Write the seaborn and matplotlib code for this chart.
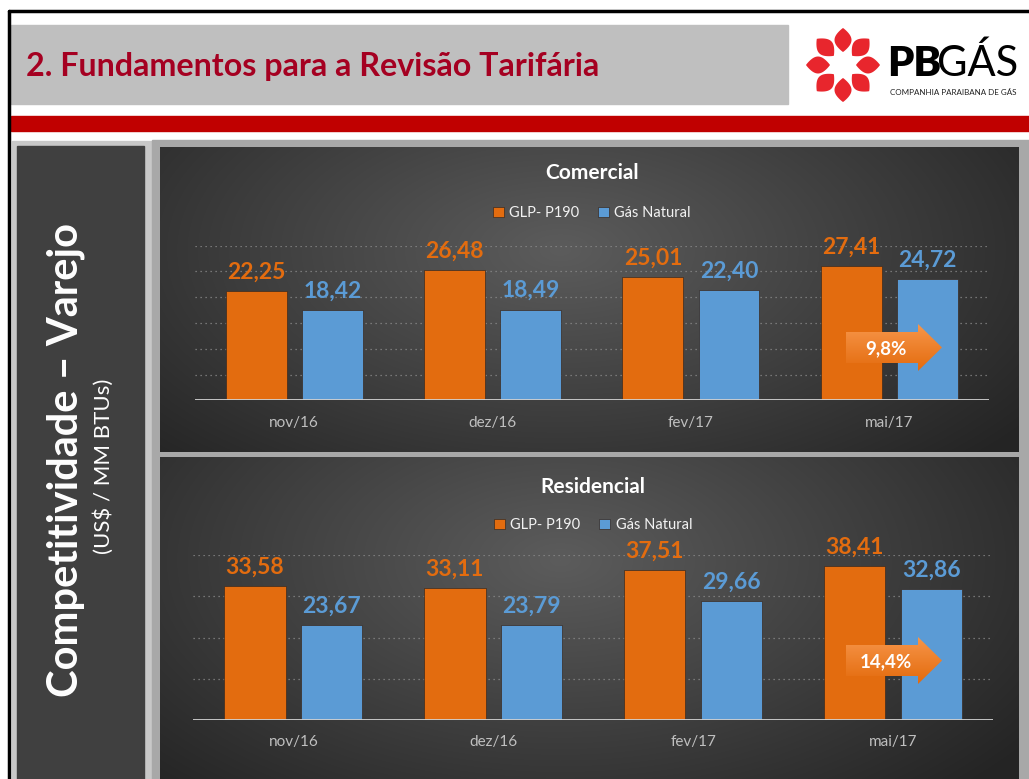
import matplotlib
matplotlib.use('Agg')
import matplotlib.pyplot as plt
from matplotlib.patches import Rectangle, Polygon
import numpy as np
import pandas as pd
import seaborn as sns

meses = ['nov/16', 'dez/16', 'fev/17', 'mai/17']
series = ['GLP- P190', 'Gás Natural']
comercial_glp = [22.25, 26.48, 25.01, 27.41]
comercial_gn = [18.42, 18.49, 22.40, 24.72]
residencial_glp = [33.58, 33.11, 37.51, 38.41]
residencial_gn = [23.67, 23.79, 29.66, 32.86]

LARANJA = '#E36C0F'
AZUL = '#5B9BD5'
W, H = 1029, 779

sns.set_style('white')
plt.rcParams['font.family'] = ['Lato', 'DejaVu Sans']

fig = plt.figure(figsize=(W / 100, H / 100), dpi=100)
bg = fig.add_axes([0, 0, 1, 1])
bg.set_xlim(0, W)
bg.set_ylim(H, 0)
bg.axis('off')


def px_axes(x0, y0, x1, y1):
    """axes posicionado em pixels da figura"""
    return fig.add_axes([x0 / W, 1 - y1 / H, (x1 - x0) / W, (y1 - y0) / H])


def radial(x0, y0, x1, y1, cx, cy, rx, ry, c_in=0x5c, c_out=0x24):
    X, Y = np.meshgrid(np.arange(x0, x1), np.arange(y0, y1))
    d = np.clip(np.hypot((X - cx) / rx, (Y - cy) / ry), 0, 1)
    v = (c_in + (c_out - c_in) * d) / 255
    img = np.dstack([v, v, v])
    bg.imshow(img, extent=(x0, x1, y1, y0), aspect='auto', zorder=2,
              interpolation='bilinear')


# moldura e cabecalho
bg.plot([9, 9], [11, H], color='black', lw=2.5, zorder=5)
bg.plot([9, W], [11, 11], color='black', lw=2.5, zorder=5)
bg.add_patch(Rectangle((11, 25), 777, 79, color='#bfbfbf', zorder=1))
bg.add_patch(Rectangle((11, 116), W - 11, 15, color='#c00000', zorder=1))
bg.text(26, 66, '2. Fundamentos para a Revisão Tarifária', color='#a50021',
        fontsize=23.2, fontweight='bold', va='center', ha='left', zorder=3)

# logo
def petala(cx, cy, ang, r0, r1, w):
    s = np.linspace(0, 1, 40)
    r = r0 + (r1 - r0) * s
    half = w * np.sin(np.pi * s) ** 0.9
    a = np.deg2rad(ang)
    ux, uy = np.cos(a), -np.sin(a)
    vx, vy = -uy, ux
    xs = np.concatenate([cx + r * ux + half * vx, (cx + r * ux - half * vx)[::-1]])
    ys = np.concatenate([cy + r * uy + half * vy, (cy + r * uy - half * vy)[::-1]])
    bg.add_patch(Polygon(np.column_stack([xs, ys]), color='#e8262d', zorder=3, lw=0))


for ang in range(0, 360, 45):
    petala(843, 65, ang, 13, 37, 8.5)
bg.text(887, 76, 'PB', fontsize=30, fontweight='heavy', color='black', va='baseline', zorder=3)
bg.text(937, 76, 'GÁS', fontsize=30, fontweight='normal', color='black', va='baseline', zorder=3)
bg.text(890, 92, 'COMPANHIA PARAIBANA DE GÁS', fontsize=5.8, color='#222222', va='center', zorder=3)

# paineis
bg.add_patch(Rectangle((12, 141), 140, H - 141, color='#c8c8c8', zorder=1))
bg.add_patch(Rectangle((17, 146), 127, H - 146, color='#404040', zorder=2))
bg.add_patch(Rectangle((152, 140), W - 152, H - 140, color='#a8a8a8', zorder=1))
radial(160, 147, 1019, 452, 560, 250, 580, 300)
radial(160, 457, 1019, 779, 560, 560, 580, 320)

bg.text(66, 460, 'Competitividade – Varejo', rotation=90, fontsize=30,
        fontweight='bold', color='white', ha='center', va='center', zorder=3)
bg.text(104, 466, '(US$ / MM BTUs)', rotation=90, fontsize=16,
        color='white', ha='center', va='center', zorder=3)


def fmt(v):
    return f'{v:.2f}'.replace('.', ',')


def grafico(ax, glp, gn, titulo, ytop, ngrid, y_tit, y_leg):
    df = pd.DataFrame({'mes': meses * 2,
                       'serie': [series[0]] * len(meses) + [series[1]] * len(meses),
                       'valor': glp + gn})
    sns.barplot(data=df, x='mes', y='valor', hue='serie', palette=[LARANJA, AZUL],
                width=0.768, gap=0.2, saturation=1, ax=ax,
                edgecolor='#3a2a20', linewidth=0.5)
    ax.patch.set_alpha(0)
    ax.set_xlim(-0.5, len(meses) - 0.5)
    ax.set_ylim(0, ytop)
    ax.set_yticks(np.linspace(0, ytop, ngrid + 1))
    ax.grid(axis='y', color='#8a8a8a', lw=0.9, ls=(0, (1, 3)))
    ax.set_axisbelow(True)
    ax.tick_params(axis='y', left=False, labelleft=False)
    ax.tick_params(axis='x', length=0, pad=11, labelsize=11, labelcolor='#bfbfbf')
    ax.set_xlabel('')
    ax.set_ylabel('')
    for sp in ax.spines.values():
        sp.set_visible(False)
    ax.axhline(0, color='#d0d0d0', lw=1.3, zorder=5)
    for cont, cor in zip(ax.containers, [LARANJA, AZUL]):
        ax.bar_label(cont, labels=[fmt(v) for v in cont.datavalues], padding=6,
                     color=cor, fontsize=16.5, fontweight='bold')
    ax.text(0.5, y_tit, titulo, transform=ax.transAxes, ha='center', va='center',
            color='white', fontsize=15, fontweight='bold')
    sns.move_legend(ax, 'center', bbox_to_anchor=(0.5, y_leg), ncol=2, frameon=False,
                    title=None, fontsize=10.5, labelcolor='#f2f2f2',
                    handlelength=0.75, handleheight=0.75, handletextpad=0.35,
                    columnspacing=1.3)


ax1 = px_axes(195, 245.7, 988.5, 400.5)
grafico(ax1, comercial_glp, comercial_gn, 'Comercial', 31.46, 6,
        (400.5 - 173) / 154.8, (400.5 - 213) / 154.8)
ax2 = px_axes(193.4, 555, 993, 720)
grafico(ax2, residencial_glp, residencial_gn, 'Residencial', 41.25, 4,
        (720 - 487) / 165, (720 - 525) / 165)

# setas com a diferenca percentual
fg = fig.add_axes([0, 0, 1, 1])
fg.set_xlim(0, W)
fg.set_ylim(H, 0)
fg.axis('off')


def seta(x0, yc, texto):
    pts = [(x0, yc - 15.5), (x0 + 72, yc - 15.5), (x0 + 72, yc - 23.5), (x0 + 96, yc),
           (x0 + 72, yc + 23.5), (x0 + 72, yc + 15.5), (x0, yc + 15.5)]
    poly = Polygon(pts, closed=True, facecolor='none', edgecolor='none')
    fg.add_patch(poly)
    g = np.linspace(0, 1, 64)[:, None]
    top = np.array([0xf7, 0x96, 0x4a]) / 255
    bot = np.array([0xe3, 0x6a, 0x0c]) / 255
    img = top + (bot - top) * g[..., None]
    img = np.repeat(img, 4, axis=1)
    im = fg.imshow(img, extent=(x0, x0 + 96, yc + 24, yc - 24), aspect='auto')
    im.set_clip_path(poly)
    fg.text(x0 + 40, yc + 1, texto, color='white', fontsize=13.5, fontweight='bold',
            ha='center', va='center')


for glp, gn, yc in [(comercial_glp, comercial_gn, 347.5), (residencial_glp, residencial_gn, 660.5)]:
    pct = (1 - gn[-1] / glp[-1]) * 100
    seta(846, yc, f'{pct:.1f}%'.replace('.', ','))

fig.savefig('out.png', dpi=100)
